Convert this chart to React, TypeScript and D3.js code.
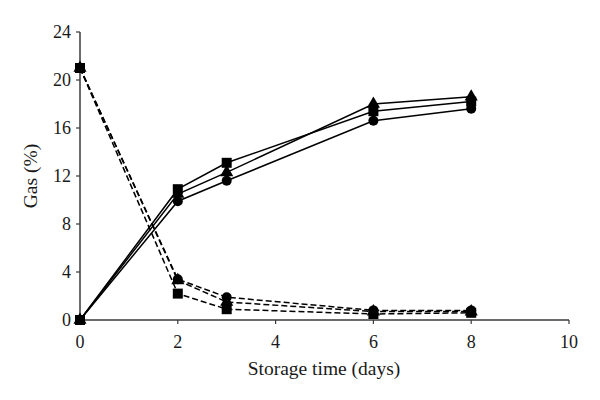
import React from "react";
import * as d3 from "d3";

const days = [0, 2, 3, 6, 8];
const co2Square = [0, 10.9, 13.1, 17.4, 18.2];
const co2Triangle = [0, 10.5, 12.3, 18.0, 18.6];
const co2Circle = [0, 9.9, 11.6, 16.6, 17.6];
const o2Square = [21, 2.2, 0.9, 0.5, 0.6];
const o2Triangle = [21, 3.3, 1.5, 0.7, 0.7];
const o2Circle = [21, 3.4, 1.9, 0.8, 0.8];
const xTicks = [0, 2, 4, 6, 8, 10];
const yTicks = [0, 4, 8, 12, 16, 20, 24];

type Series = { values: number[]; marker: "square" | "triangle" | "circle"; dashed: boolean };

const series: Series[] = [
  { values: o2Circle, marker: "circle", dashed: true },
  { values: o2Triangle, marker: "triangle", dashed: true },
  { values: o2Square, marker: "square", dashed: true },
  { values: co2Circle, marker: "circle", dashed: false },
  { values: co2Triangle, marker: "triangle", dashed: false },
  { values: co2Square, marker: "square", dashed: false },
];

export default function App() {
  const x = d3.scaleLinear().domain([0, 10]).range([80, 569]);
  const y = d3.scaleLinear().domain([0, 24]).range([320, 32]);
  const line = d3
    .line<number>()
    .x((_, i) => x(days[i]))
    .y((d) => y(d));
  const font = "'Liberation Serif', 'Times New Roman', serif";
  const axisColor = "#3a3a3a";
  const textColor = "#1a1a1a";

  const marker = (m: Series["marker"], cx: number, cy: number, key: string) => {
    if (m === "square")
      return <rect key={key} x={cx - 5} y={cy - 5} width={10} height={10} fill="#000" />;
    if (m === "circle") return <circle key={key} cx={cx} cy={cy} r={5} fill="#000" />;
    const s = d3.symbol(d3.symbolTriangle, 75)();
    return <path key={key} d={s || ""} transform={`translate(${cx},${cy})`} fill="#000" />;
  };

  return (
    <svg
      width={600}
      height={400}
      style={{ position: "absolute", left: 0, top: 0, background: "#fff" }}
      fontFamily={font}
    >
      <rect width={600} height={400} fill="#fff" />
      <line x1={x(0)} x2={x(10)} y1={y(0)} y2={y(0)} stroke={axisColor} strokeWidth={1.5} />
      <line x1={x(0)} x2={x(0)} y1={y(0)} y2={y(24)} stroke={axisColor} strokeWidth={1.5} />
      {xTicks.map((t) => (
        <g key={"x" + t}>
          <line x1={x(t)} x2={x(t)} y1={y(0)} y2={y(0) + 4} stroke={axisColor} strokeWidth={1.2} />
          <text x={x(t)} y={348} textAnchor="middle" fontSize={18} fill={textColor}>
            {t}
          </text>
        </g>
      ))}
      {yTicks.map((t) => (
        <g key={"y" + t}>
          <line x1={x(0) - 4} x2={x(0)} y1={y(t)} y2={y(t)} stroke={axisColor} strokeWidth={1.2} />
          <text x={71} y={y(t)} dy="0.35em" textAnchor="end" fontSize={18} fill={textColor}>
            {t}
          </text>
        </g>
      ))}
      <text x={324} y={375} textAnchor="middle" fontSize={19.5} fill={textColor}>
        Storage time (days)
      </text>
      <text
        transform={`translate(37,${y(12)}) rotate(-90)`}
        textAnchor="middle"
        fontSize={19.5}
        fill={textColor}
      >
        Gas (%)
      </text>
      {series.map((s, i) => (
        <path
          key={"l" + i}
          d={line(s.values) || ""}
          fill="none"
          stroke="#000"
          strokeWidth={1.5}
          strokeDasharray={s.dashed ? "6,3" : undefined}
        />
      ))}
      {series.map((s, i) =>
        s.values.map((v, j) => marker(s.marker, x(days[j]), y(v), `m${i}-${j}`))
      )}
    </svg>
  );
}
